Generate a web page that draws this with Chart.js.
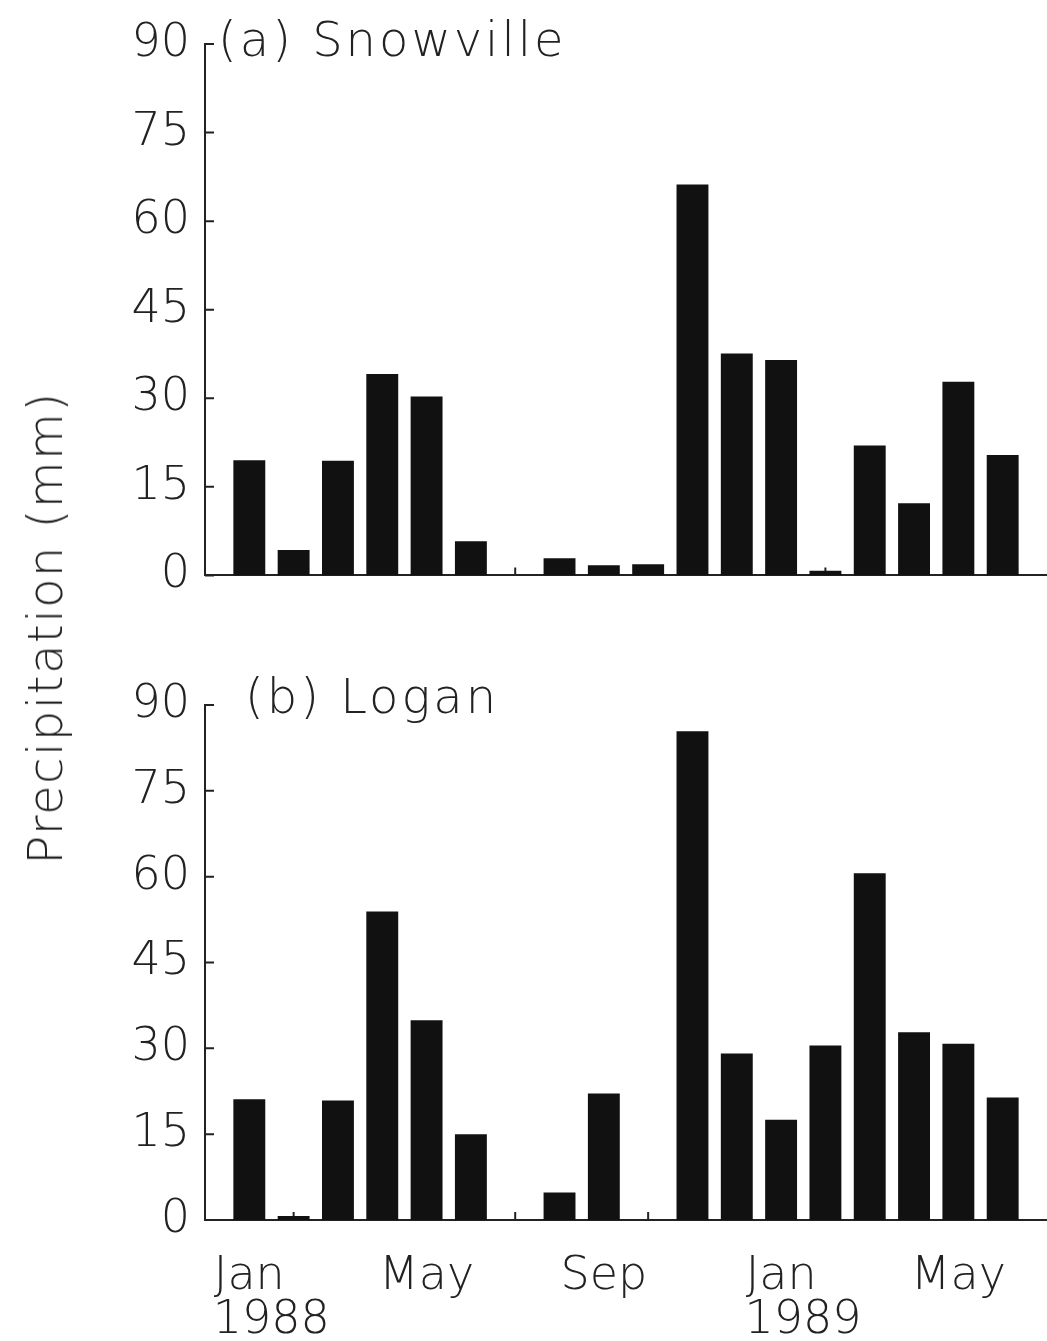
<!DOCTYPE html>
<html>
<head>
<meta charset="utf-8">
<script src="https://cdn.jsdelivr.net/npm/chart.js@4.4.0/dist/chart.umd.min.js"></script>
<style>
  body { margin: 0; background: #fff; width: 1047px; height: 1341px; overflow: hidden; position: relative; }
  .box { position: absolute; left: 0; width: 1047px; }
  #ytitle {
    position: absolute; left: 45px; top: 628px;
    transform: translate(-50%, -50%) rotate(-90deg);
    font-family: 'DejaVu Sans', sans-serif; font-weight: 200; font-size: 48px;
    letter-spacing: 1.5px; color: #222; white-space: nowrap;
  }
</style>
</head>
<body>
<div class="box" style="top:0;height:618px"><canvas id="chart-top"></canvas></div>
<div class="box" style="top:660px;height:681px"><canvas id="chart-bottom"></canvas></div>
<div id="ytitle">Precipitation (mm)</div>
<script>
/* eslint-disable no-undef */
// monthly totals, Jan 1988 .. Jun 1989
const months = ['Jan', 'Feb', 'Mar', 'Apr', 'May', 'Jun', 'Jul', 'Aug', 'Sep', 'Oct', 'Nov', 'Dec',
  'Jan', 'Feb', 'Mar', 'Apr', 'May', 'Jun']
const snowville = [19.5, 4.3, 19.4, 34.1, 30.3, 5.8, 0, 2.9, 1.7, 1.9, 66.2, 37.6, 36.5, 0.8, 22.0, 12.2, 32.8, 20.4]
const logan = [21.1, 0.7, 20.9, 53.9, 34.9, 15.0, 0, 4.8, 22.1, 0, 85.4, 29.1, 17.5, 30.5, 60.6, 32.8, 30.8, 21.4]
const yTicks = [0, 15, 30, 45, 60, 75, 90]
const xTickIdx = [0, 4, 8, 12, 16]
const xTickLabels = [['Jan', '1988'], ['May'], ['Sep'], ['Jan', '1989'], ['May']]

const font = { family: "'DejaVu Sans', sans-serif", weight: 200, size: 46 }
const ink = '#222'

// short inward ticks on both axes, drawn behind the bars
const innerTicks = {
  id: 'innerTicks',
  beforeDatasetsDraw (chart) {
    const { ctx, scales: { x, y } } = chart
    ctx.save()
    ctx.strokeStyle = ink
    ctx.lineWidth = 2
    ctx.beginPath()
    months.forEach((m, i) => {
      const px = x.getPixelForValue(i)
      ctx.moveTo(px, y.bottom)
      ctx.lineTo(px, y.bottom - 8)
    })
    yTicks.forEach(v => {
      const py = y.getPixelForValue(v)
      ctx.moveTo(x.left, py)
      ctx.lineTo(x.left + 9, py)
    })
    ctx.stroke()
    ctx.restore()
  }
}

const panelTitle = {
  id: 'panelTitle',
  afterDraw (chart, args, opts) {
    const { ctx } = chart
    ctx.save()
    ctx.font = `${font.weight} 48px ${font.family}`
    ctx.letterSpacing = '3px'
    ctx.fillStyle = ink
    ctx.textBaseline = 'middle'
    ctx.fillText(opts.text, opts.x, opts.y)
    ctx.restore()
  }
}

// year line sits flush with the month above it
const tickText = (v) => {
  const lines = xTickLabels[xTickIdx.indexOf(v)]
  return lines.length > 1 ? [lines[0], '   ' + lines[1]] : lines
}

function makeChart (id, values, title, showLabels, xHeight, padTop) {
  return new Chart(document.getElementById(id), {
    type: 'bar',
    data: {
      datasets: [{
        data: values.map((v, i) => ({ x: i, y: v })),
        backgroundColor: '#111',
        borderWidth: 0,
        categoryPercentage: 0.8,
        barPercentage: 0.9
      }]
    },
    options: {
      responsive: true,
      maintainAspectRatio: false,
      animation: false,
      layout: { padding: { top: padTop, left: 0, right: 0, bottom: 0 } },
      plugins: {
        legend: { display: false },
        tooltip: { enabled: false },
        panelTitle: title
      },
      scales: {
        x: {
          type: 'linear',
          offset: false,
          min: -1,
          max: 18,
          afterBuildTicks: scale => { scale.ticks = xTickIdx.map(v => ({ value: v })) },
          afterFit: scale => { scale.height = xHeight },
          grid: { display: false, drawTicks: false },
          border: { display: true, color: ink, width: 2 },
          ticks: {
            display: showLabels,
            autoSkip: false,
            maxRotation: 0,
            padding: 35,
            color: ink,
            font: { ...font, lineHeight: 0.95 },
            callback: tickText
          }
        },
        y: {
          min: 0,
          max: 90,
          afterBuildTicks: scale => { scale.ticks = yTicks.map(v => ({ value: v })) },
          afterFit: scale => { scale.width = 205 },
          grid: { display: false, drawTicks: false },
          border: { display: true, color: ink, width: 2 },
          ticks: { padding: 15, color: ink, font }
        }
      }
    },
    plugins: [innerTicks, panelTitle]
  })
}

makeChart('chart-top', snowville, { text: '(a) Snowville', x: 218, y: 44 }, false, 30, 44)
makeChart('chart-bottom', logan, { text: '(b) Logan', x: 245, y: 41 }, true, 121, 45)
</script>
</body>
</html>
